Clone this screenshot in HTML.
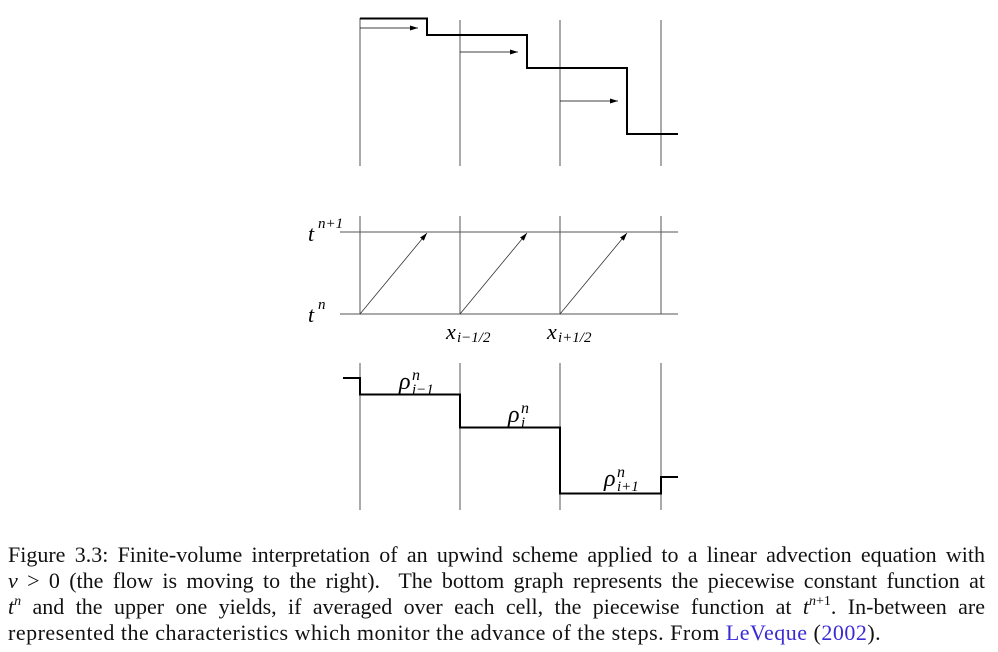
<!DOCTYPE html>
<html><head><meta charset="utf-8"><style>
html,body{margin:0;padding:0;background:#fff;width:998px;height:652px;overflow:hidden}
svg{position:absolute;left:0;top:0}
.cap{position:absolute;left:8px;width:977px;font-family:"Liberation Serif",serif;font-size:22px;color:#111;text-align:justify;text-align-last:justify;white-space:nowrap;line-height:26px;height:26px}
.cap sup{font-size:14px;line-height:0;vertical-align:0;position:relative;top:-9px}
a{color:#3a2bd6;text-decoration:none}
</style></head><body>
<svg id="fig" width="998" height="540"></svg>
<div class="cap" style="top:542px">Figure 3.3: Finite-volume interpretation of an upwind scheme applied to a linear advection equation with</div>
<div class="cap" style="top:568px"><i>v</i> &gt; 0 (the flow is moving to the right).&nbsp; The bottom graph represents the piecewise constant function at</div>
<div class="cap" style="top:594px"><i>t</i><sup><i>n</i></sup> and the upper one yields, if averaged over each cell, the piecewise function at <i>t</i><sup><i>n</i>+1</sup>. In-between are</div>
<div class="cap" style="top:620px;text-align-last:left;letter-spacing:0.5px">represented the characteristics which monitor the advance of the steps. From <a>LeVeque</a> (<a>2002</a>).</div>
<script>
const cellEdges=[360,460,560,661];
const topLevels=[4.5,4.0,3.0,1.0];
const bottomLevels=[4.0,3.5,2.5,0.5,1.0];
const shiftFrac=0.67;
const svg=document.getElementById('fig');
const NS='http://www.w3.org/2000/svg';
function yTop(v){return 167-v*33;}
function yBot(v){return 510-v*33;}
function mk(tag,a,name){const e=document.createElementNS(NS,tag);for(const k in a)e.setAttribute(k,a[k]);


svg.appendChild(e);return e;}
const defs=document.createElementNS(NS,'defs');
defs.innerHTML='<marker id="ah" markerWidth="8" markerHeight="6" refX="8" refY="3" orient="auto" markerUnits="userSpaceOnUse"><path d="M0,0.5 L8,3 L0,5.5z" fill="#000"/></marker>';
svg.appendChild(defs);
const cw=cellEdges[1]-cellEdges[0];
cellEdges.forEach((x,i)=>mk('line',{x1:x,y1:i==0?18:20,x2:x,y2:166,stroke:'#555','stroke-width':1},'top-cell-edge'));
let d='M'+cellEdges[0]+','+yTop(topLevels[0]);
topLevels.forEach((v,i)=>{const xe=i<topLevels.length-1?cellEdges[i]+cw*shiftFrac:678;d+=' L'+xe+','+yTop(v);if(i<topLevels.length-1)d+=' L'+xe+','+yTop(topLevels[i+1]);});
mk('path',{d:d,fill:'none',stroke:'#000','stroke-width':2},'advected-step-function');
topLevels.slice(0,3).forEach((v,i)=>{const y=[28,52,101][i];mk('line',{x1:cellEdges[i],y1:y,x2:cellEdges[i]+58,y2:y,stroke:'#000','stroke-width':0.8,'marker-end':'url(#ah)'},'advection-arrow');});
cellEdges.forEach(x=>mk('line',{x1:x,y1:216,x2:x,y2:314,stroke:'#555','stroke-width':1},'mid-cell-edge'));
mk('line',{x1:340,y1:232,x2:678,y2:232,stroke:'#555','stroke-width':1},'t-n-plus-1-line');
mk('line',{x1:340,y1:314,x2:678,y2:314,stroke:'#555','stroke-width':1},'t-n-line');
cellEdges.slice(0,3).forEach(x=>mk('line',{x1:x,y1:314,x2:x+cw*shiftFrac,y2:233,stroke:'#333','stroke-width':0.8,'marker-end':'url(#ah)'},'characteristic'));
function txt(x,y,s,name,size){const t=mk('text',{x:x,y:y,'font-family':'Liberation Serif, serif','font-style':'italic','font-size':size||20},name);t.textContent=s;return t;}
txt(308,241,'t','t-n-plus-1-label',22);txt(318,228,'n+1','t-n-plus-1-sup',15);
txt(308,322,'t','t-n-label',22);txt(318,309,'n','t-n-sup',15);
txt(446,339,'x','x-i-minus-half-label',22);txt(457,342,'i−1/2','x-i-minus-half-sub',15);
txt(547,339,'x','x-i-plus-half-label',22);txt(558,342,'i+1/2','x-i-plus-half-sub',15);
cellEdges.forEach(x=>mk('line',{x1:x,y1:363,x2:x,y2:510,stroke:'#555','stroke-width':1},'bottom-cell-edge'));
let d2='M343,'+yBot(bottomLevels[0])+' L'+cellEdges[0]+','+yBot(bottomLevels[0]);
for(let i=1;i<bottomLevels.length;i++){const xe=i<bottomLevels.length-1?cellEdges[i]:678;d2+=' L'+cellEdges[i-1]+','+yBot(bottomLevels[i])+' L'+xe+','+yBot(bottomLevels[i]);}
mk('path',{d:d2,fill:'none',stroke:'#000','stroke-width':2},'initial-step-function');
function rho(x,y,sub,name){txt(x,y,'ρ',name,24);txt(x+13,y-9,'n',name+'-sup',16);txt(x+13,y+5,sub,name+'-sub',15);}
rho(399,389,'i−1','rho-i-minus-1-label');
rho(508,422,'i','rho-i-label');
rho(604,486,'i+1','rho-i-plus-1-label');
</script>
</body></html>
